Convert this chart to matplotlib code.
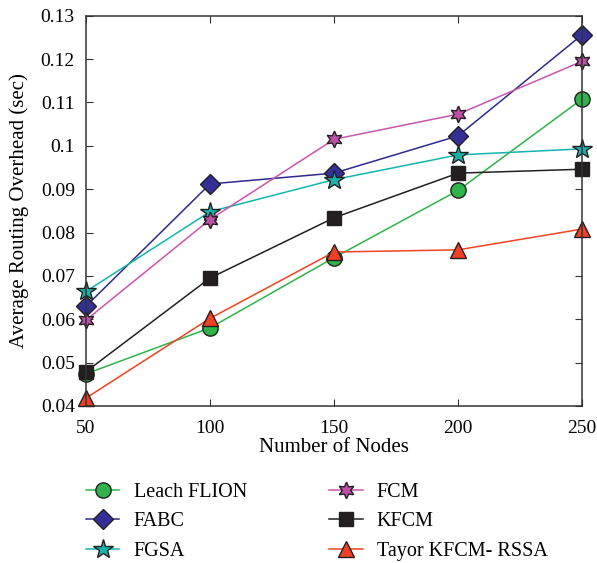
import matplotlib
matplotlib.use("Agg")
import matplotlib.pyplot as plt

nodes = [50, 100, 150, 200, 250]
leach = [0.0474, 0.0580, 0.0742, 0.0897, 0.1108]
fabc = [0.0630, 0.0912, 0.0937, 0.1023, 0.1256]
fgsa = [0.0664, 0.0848, 0.0922, 0.0979, 0.0993]
fcm = [0.0598, 0.0830, 0.1015, 0.1073, 0.1195]
kfcm = [0.0479, 0.0695, 0.0834, 0.0937, 0.0946]
tayor = [0.0418, 0.0602, 0.0755, 0.0760, 0.0808]

series = [
    ("Leach FLION", leach, "#2fb34a", "#2fb34a", "o", 11),
    ("FABC", fabc, "#2e2a8c", "#342f96", "D", 10),
    ("FGSA", fgsa, "#13b5ad", "#16b3ab", "*", 15),
    ("FCM", fcm, "#c955ac", "#c04fa7", (6, 1, 0), 12),
    ("KFCM", kfcm, "#231f20", "#231f20", "s", 10),
    ("Tayor KFCM- RSSA", tayor, "#f04423", "#ee4123", "^", 12),
]

plt.rcParams.update({"font.family": "Liberation Serif", "font.size": 13,
                     "xtick.direction": "in", "ytick.direction": "in",
                     "xtick.top": True, "ytick.right": True})

fig = plt.figure(figsize=(5.97, 5.63), dpi=100)
ax = fig.add_axes([0.144, 0.279, 0.831, 0.693])
for label, vals, lc, fc, mk, ms in series:
    ax.plot(nodes, vals, color=lc, lw=1.1, marker=mk, ms=ms, mfc=fc,
            mec="#231f20", mew=1.0, label=label)

ax.set_xlim(50, 250)
ax.set_ylim(0.04, 0.13)
ax.set_xticks(nodes)
ax.set_yticks([0.04, 0.05, 0.06, 0.07, 0.08, 0.09, 0.10, 0.11, 0.12, 0.13])
ax.set_yticklabels(["0.04", "0.05", "0.06", "0.07", "0.08", "0.09", "0.1",
                    "0.11", "0.12", "0.13"])
ax.tick_params(labelsize=14, length=5, color="#333333")
ax.tick_params(axis="y", pad=8)
ax.tick_params(axis="x", pad=10)
for s in ax.spines.values():
    s.set_linewidth(1.1)
    s.set_color("#333333")
for ln in ax.lines:
    ln.set_clip_on(False)
ax.set_xlabel("Number of Nodes", fontsize=15, labelpad=1)
ax.set_ylabel("Average Routing Overhead (sec)", fontsize=15, labelpad=8)

fig.legend(ncol=2, frameon=False, loc="upper left", bbox_to_anchor=(0.114, 0.175),
           fontsize=14.5, handlelength=1.65, columnspacing=4.1, labelspacing=0.53,
           handletextpad=0.7)

fig.savefig("out.png", dpi=100)
